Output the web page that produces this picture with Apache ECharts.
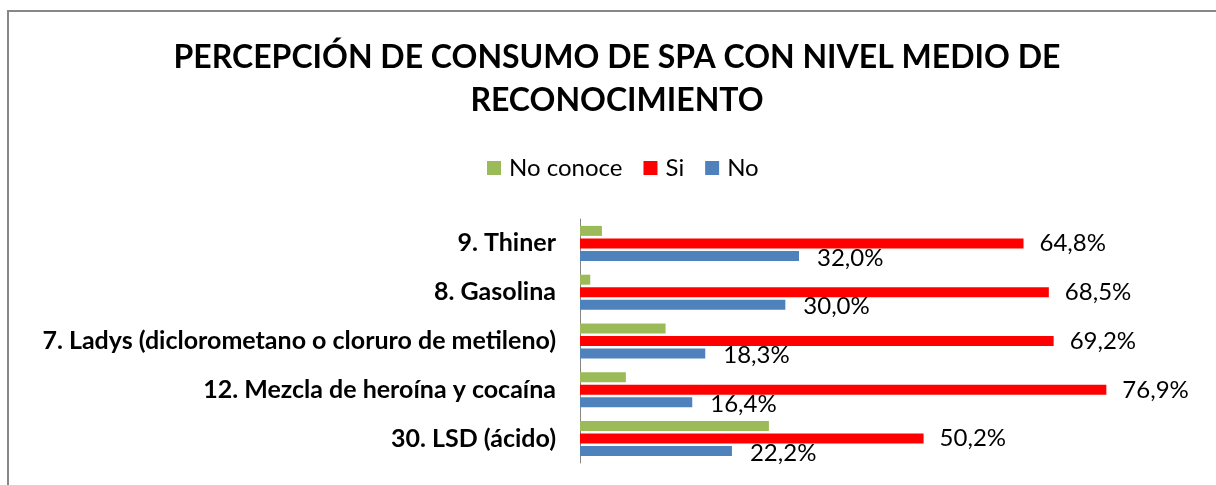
<!DOCTYPE html>
<html>
<head>
<meta charset="utf-8">
<script src="https://cdn.jsdelivr.net/npm/echarts@6/dist/echarts.min.js"></script>
<style>
html,body{margin:0;padding:0;background:#fff;}
#c{width:1216px;height:485px;}
</style>
</head>
<body>
<div id="c"></div>
<script>
const categories = ['9. Thiner', '8. Gasolina', '7. Ladys (diclorometano o cloruro de metileno)', '12. Mezcla de heroína y cocaína', '30. LSD (ácido)'];
const noConoce = [3.2, 1.5, 12.5, 6.7, 27.6];
const si = [64.8, 68.5, 69.2, 76.9, 50.2];
const no = [32.0, 30.0, 18.3, 16.4, 22.2];
const legendNames = ['No conoce', 'Si', 'No'];

const FONT = 'Lato';
const fmt = p => p.value.toFixed(1).replace('.', ',') + '%';

const chart = echarts.init(document.getElementById('c'), null, {renderer: 'canvas'});
chart.setOption({
  animation: false,
  backgroundColor: '#fff',
  textStyle: {fontFamily: FONT},
  title: {
    text: 'PERCEPCIÓN DE CONSUMO DE SPA CON NIVEL MEDIO DE\nRECONOCIMIENTO',
    left: 612, top: 31, textAlign: 'center',
    textStyle: {fontFamily: FONT, fontSize: 32, fontWeight: 'bold', color: '#000', lineHeight: 43}
  },
  legend: {
    data: legendNames,
    top: 151, left: 482,
    itemWidth: 14, itemHeight: 14, itemGap: 21,
    icon: 'rect',
    textStyle: {fontFamily: FONT, fontSize: 24, color: '#000', padding: [0,0,0,3]}
  },
  graphic: [{
    type: 'polyline', silent: true,
    shape: {points: [[8, 490], [8, 11], [1220, 11]]},
    style: {stroke: '#878787', lineWidth: 2, fill: null}
  }],
  grid: {left: 580, right: 20, top: 219, bottom: 22, containLabel: false},
  xAxis: {
    type: 'value', min: 0, max: 90, show: false
  },
  yAxis: {
    type: 'category', data: categories, inverse: true,
    axisLine: {lineStyle: {color: '#868686', width: 1}},
    axisTick: {show: false},
    axisLabel: {fontFamily: FONT, fontSize: 25, fontWeight: 'bold', color: '#000', margin: 24}
  },
  series: [
    {name: 'No conoce', type: 'bar', data: noConoce, barWidth: 10, barGap: '25%',
     itemStyle: {color: '#9BBB59'}},
    {name: 'Si', type: 'bar', data: si, barWidth: 10, barGap: '25%',
     itemStyle: {color: '#FF0000'},
     label: {show: true, position: 'right', distance: 16, formatter: fmt,
             fontFamily: FONT, fontSize: 24, color: '#000'}},
    {name: 'No', type: 'bar', data: no, barWidth: 10, barGap: '25%',
     itemStyle: {color: '#4F81BD'},
     label: {show: true, position: 'right', distance: 18, offset: [0, 2], formatter: fmt,
             fontFamily: FONT, fontSize: 24, color: '#000'}}
  ]
});
</script>
</body>
</html>
